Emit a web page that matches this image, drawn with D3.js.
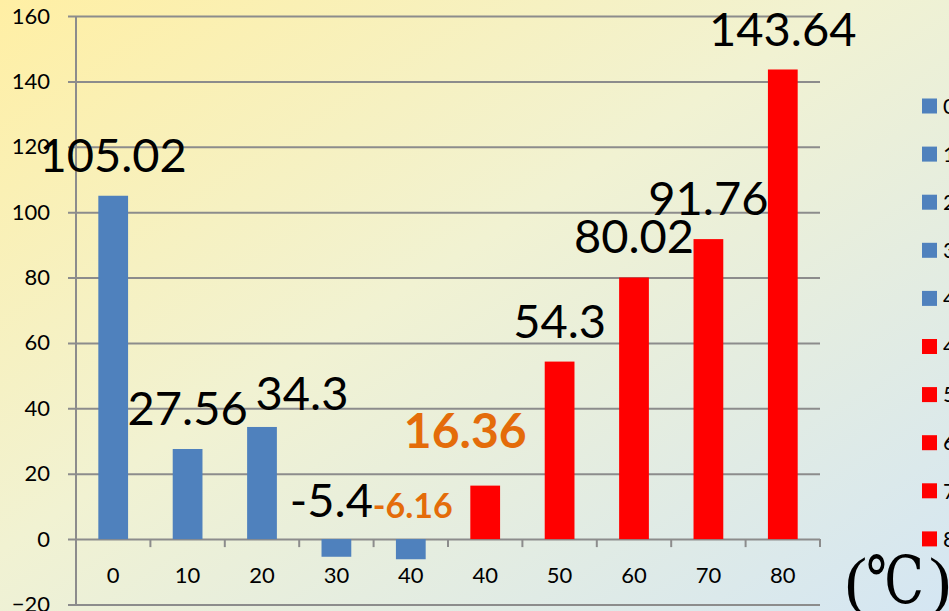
<!DOCTYPE html>
<html>
<head>
<meta charset="utf-8">
<script src="https://cdn.jsdelivr.net/npm/d3@7"></script>
<style>
  body { margin: 0; overflow: hidden; }
  svg { display: block; font-family: Lato, "Open Sans", sans-serif; }
</style>
</head>
<body>
<script>
const width = 949;
const height = 611;

// categories (temperature), note "40" appears twice
var categories = ["0", "10", "20", "30", "40", "40", "50", "60", "70", "80"];
var values = [105.02, 27.56, 34.3, -5.4, -6.16, 16.36, 54.3, 80.02, 91.76, 143.64];
var series = ["blue", "blue", "blue", "blue", "blue", "red", "red", "red", "red", "red"];
var yTicks = [-20, 0, 20, 40, 60, 80, 100, 120, 140, 160];

// label style / nudges (not data)
var labelStyle = {4: "small", 5: "big"};
var labelNudge = {2: [40, 7], 3: [-5, 2], 4: [2, 3], 5: [-20, -14]};

var colors = {blue: "#4F81BD", red: "#FF0000"};
const gridColor = "#8C8C8C";
const orange = "#E46C0A";

var svg = d3.select("body").append("svg")
    .attr("width", width)
    .attr("height", height);

// background gradient
var grad = svg.append("defs").append("linearGradient")
    .attr("id", "bg")
    .attr("x1", 0).attr("y1", 0).attr("x2", 1).attr("y2", 1);
grad.append("stop").attr("offset", "0%").attr("stop-color", "#FFEFA4");
grad.append("stop").attr("offset", "45%").attr("stop-color", "#F1F2D2");
grad.append("stop").attr("offset", "100%").attr("stop-color", "#D4E6F3");
svg.append("rect").attr("width", width).attr("height", height).attr("fill", "url(#bg)");

var x = d3.scaleBand()
    .domain(d3.range(categories.length))
    .range([76, 820])
    .paddingInner(0.6)
    .paddingOuter(0.3);

var y = d3.scaleLinear()
    .domain([-20, 160])
    .range([604.5, 16]);

// y axis with gridlines, drawn from the right edge
var yAxis = svg.append("g")
    .attr("transform", "translate(820,0)")
    .call(d3.axisLeft(y)
      .tickValues(yTicks)
      .tickSize(820 - 68)
      .tickPadding(18));
yAxis.select(".domain").remove();
yAxis.selectAll(".tick line")
    .attr("stroke", gridColor)
    .attr("stroke-width", 2);
yAxis.selectAll(".tick text")
    .attr("font-size", 22)
    .attr("font-family", "Lato")
    .attr("fill", "#000");

// vertical axis line
svg.append("line")
    .attr("x1", 76).attr("x2", 76)
    .attr("y1", y(160)).attr("y2", y(-20))
    .attr("stroke", gridColor)
    .attr("stroke-width", 2);

// x axis at zero
var xAxis = svg.append("g")
    .attr("transform", "translate(0," + y(0) + ")")
    .call(d3.axisBottom(x)
      .tickFormat(function(i){ return categories[i]; })
      .tickSize(0)
      .tickPadding(28));
xAxis.select(".domain").remove();
xAxis.selectAll(".tick text")
    .attr("font-size", 22)
    .attr("font-family", "Lato")
    .attr("fill", "#000");

// category boundary ticks
svg.append("g").selectAll("line")
    .data(d3.range(1, categories.length + 1))
    .enter()
    .append("line")
      .attr("x1", function(k){ return x.range()[0] + k * x.step(); })
      .attr("x2", function(k){ return x.range()[0] + k * x.step(); })
      .attr("y1", y(0))
      .attr("y2", y(0) + 8)
      .attr("stroke", gridColor)
      .attr("stroke-width", 2);

// bars
svg.append("g").selectAll("rect")
    .data(values)
    .enter()
    .append("rect")
      .attr("x", function(d, i){ return x(i); })
      .attr("width", x.bandwidth())
      .attr("y", function(d){ return y(Math.max(d, 0)); })
      .attr("height", function(d){ return Math.abs(y(d) - y(0)); })
      .attr("fill", function(d, i){ return colors[series[i]]; });

// data labels
svg.append("g").selectAll("text")
    .data(values)
    .enter()
    .append("text")
      .attr("x", function(d, i){
        var n = labelNudge[i] || [0, 0];
        return x(i) + x.bandwidth() / 2 + n[0];
      })
      .attr("y", function(d, i){
        var n = labelNudge[i] || [0, 0];
        return y(Math.max(d, 0)) - 24 + n[1];
      })
      .attr("text-anchor", "middle")
      .attr("font-family", "Lato")
      .attr("font-size", function(d, i){
        if (labelStyle[i] == "small") return 34;
        if (labelStyle[i] == "big") return 48;
        return 47;
      })
      .attr("font-weight", function(d, i){ return labelStyle[i] ? "bold" : "normal"; })
      .attr("fill", function(d, i){ return labelStyle[i] ? orange : "#000"; })
      .text(function(d){ return d; });

// legend (clipped by the window edge)
var legend = svg.append("g").attr("class", "legend");
legend.selectAll("rect")
    .data(categories)
    .enter()
    .append("rect")
      .attr("x", 922)
      .attr("y", function(d, i){ return 106 + i * 48.1 - 7.5; })
      .attr("width", 15)
      .attr("height", 15)
      .attr("fill", function(d, i){ return colors[series[i]]; });
legend.selectAll("text")
    .data(categories)
    .enter()
    .append("text")
      .attr("x", 943)
      .attr("y", function(d, i){ return 106 + i * 48.1; })
      .attr("dy", "0.35em")
      .attr("font-size", 22)
      .attr("font-family", "Lato")
      .attr("fill", "#000")
      .text(function(d){ return d; });

// unit
var unit = svg.append("text")
    .attr("y", 603)
    .attr("font-family", "'Liberation Serif', 'DejaVu Serif', serif")
    .attr("font-size", 66)
    .attr("fill", "#000");
unit.append("tspan").attr("x", 845).text("(");
unit.append("tspan").attr("x", 866)
    .attr("textLength", 58)
    .attr("lengthAdjust", "spacingAndGlyphs")
    .text("℃");
unit.append("tspan").attr("x", 929).text(")");
</script>
</body>
</html>
